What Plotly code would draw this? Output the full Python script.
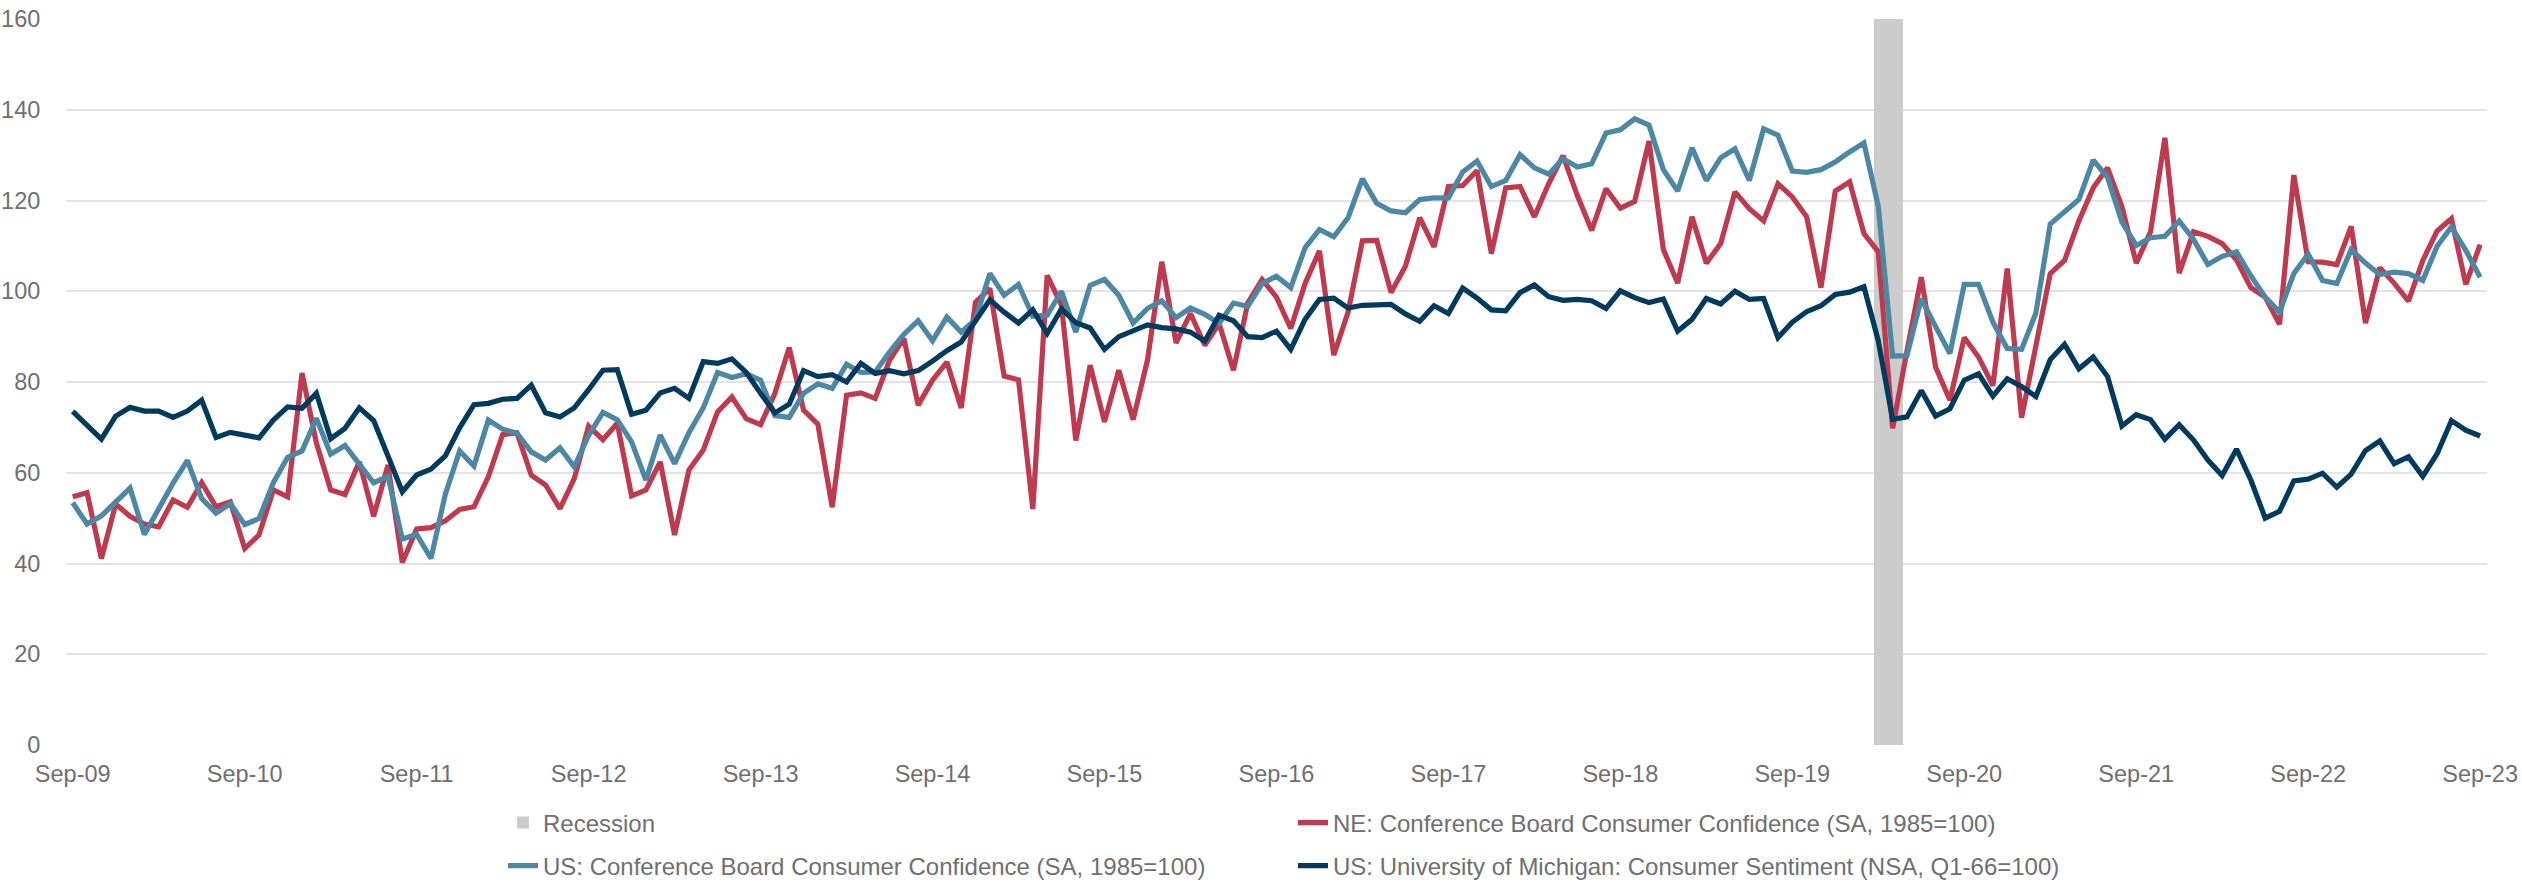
import plotly.graph_objects as go
import pandas as pd

# ---------------- data ----------------
months = list(pd.date_range("2009-09-01", "2023-09-01", freq="MS").strftime("%b-%y"))
tick_labels = ["Sep-09", "Sep-10", "Sep-11", "Sep-12", "Sep-13", "Sep-14", "Sep-15",
               "Sep-16", "Sep-17", "Sep-18", "Sep-19", "Sep-20", "Sep-21", "Sep-22", "Sep-23"]
y_ticks = [0, 20, 40, 60, 80, 100, 120, 140, 160]

recession_months = ["Mar-20", "Apr-20"]
recession_values = [160, 160]

ne_cb = [
    54.7, 55.6, 41.1, 53.1, 50.4, 48.7, 48.1, 54.0, 52.4, 57.8, 52.5, 53.6,
    43.3, 46.3, 56.2, 54.7, 82.0, 66.6, 56.2, 55.2, 62.4, 50.4, 61.7, 40.2,
    47.6, 47.9, 49.4, 51.9, 52.5, 59.1, 68.4, 68.8, 59.5, 57.3, 52.1, 58.7,
    70.3, 67.3, 70.9, 54.9, 56.2, 62.4, 46.3, 60.6, 65.0, 73.4, 76.7, 71.9,
    70.6, 77.5, 87.6, 73.8, 70.7, 52.4, 77.1, 77.6, 76.4, 84.8, 89.6, 74.9,
    80.4, 84.4, 74.3, 97.6, 100.6, 81.3, 80.5, 52.0, 103.5, 96.9, 67.1, 83.7,
    71.2, 82.6, 71.7, 84.8, 106.5, 88.6, 95.1, 88.1, 92.9, 82.6, 97.4, 102.6,
    98.7, 91.8, 101.7, 108.9, 85.9, 95.4, 111.1, 111.2, 99.7, 105.5, 116.2, 109.8,
    123.1, 123.3, 126.6, 108.3, 122.8, 123.1, 116.4, 123.7, 129.9, 121.1, 113.4, 122.6,
    118.3, 119.8, 133.1, 109.2, 101.8, 116.4, 106.2, 110.5, 121.9, 118.2, 115.5, 123.7,
    120.8, 116.4, 100.8, 122.1, 124.1, 112.7, 108.7, 69.8, 86.8, 103.1, 83.3, 76.0,
    89.8, 85.5, 79.2, 105.0, 72.1, 88.1, 103.9, 106.8, 115.5, 122.8, 127.2, 118.7,
    106.2, 113.1, 133.8, 104.0, 113.1, 112.1, 110.5, 106.9, 100.8, 98.7, 92.7, 125.6,
    106.5, 106.4, 105.9, 114.3, 93.0, 105.2, 101.8, 97.8, 106.8, 113.3, 116.0, 101.5,
    110.3,
]

us_cb = [
    53.4, 48.7, 50.5, 53.6, 56.6, 46.4, 52.3, 57.7, 62.7, 54.3, 51.1, 53.2,
    48.6, 49.9, 57.8, 63.4, 64.8, 72.0, 64.1, 66.0, 61.9, 57.8, 59.2, 45.4,
    46.4, 41.1, 55.3, 64.8, 61.5, 71.6, 69.6, 68.7, 64.6, 62.8, 65.5, 61.3,
    68.2, 73.3, 71.7, 66.8, 58.4, 68.3, 62.0, 68.8, 74.3, 82.1, 81.0, 81.8,
    80.4, 72.6, 72.2, 77.5, 79.6, 78.6, 83.9, 82.1, 82.2, 86.6, 90.5, 93.5,
    89.1, 94.3, 91.0, 93.8, 103.9, 99.1, 101.5, 94.5, 94.7, 100.0, 91.0, 101.3,
    102.6, 99.1, 93.0, 96.2, 97.9, 94.2, 96.3, 94.9, 92.9, 97.4, 96.7, 101.7,
    103.3, 100.8, 109.6, 113.6, 112.0, 116.2, 124.8, 119.4, 117.7, 117.3, 120.2, 120.6,
    120.6, 126.3, 128.7, 123.1, 124.4, 130.1, 127.2, 125.8, 129.2, 127.4, 128.1, 134.9,
    135.6, 138.0, 136.6, 126.8, 122.1, 131.6, 124.4, 129.4, 131.4, 124.4, 135.8, 134.4,
    126.5, 126.2, 126.8, 128.5, 130.7, 132.7, 118.7, 85.7, 85.8, 98.4, 92.2, 86.3,
    101.5, 101.5, 93.2, 87.4, 87.2, 95.2, 114.8, 117.4, 120.2, 128.9, 125.1, 115.3,
    110.1, 111.8, 112.1, 115.5, 111.4, 105.9, 107.7, 108.7, 103.4, 98.7, 95.4, 103.9,
    108.2, 102.4, 101.7, 109.2, 106.2, 103.7, 104.2, 103.9, 102.4, 109.9, 114.2, 109.0,
    103.1,
]

us_umich = [
    73.5, 70.6, 67.4, 72.5,
    74.4, 73.6, 73.6, 72.2, 73.6, 76.0, 67.8, 68.9, 68.2, 67.7, 71.6, 74.5,
    74.2, 77.5, 67.5, 69.8, 74.3, 71.5, 63.7, 55.8, 59.5, 60.8, 63.7, 69.9,
    75.0, 75.3, 76.2, 76.4, 79.3, 73.2, 72.3, 74.3, 78.3, 82.6, 82.7, 72.9,
    73.8, 77.6, 78.6, 76.4, 84.5, 84.1, 85.1, 82.1, 77.5, 73.2, 75.1, 82.5,
    81.2, 81.6, 80.0, 84.1, 81.9, 82.5, 81.8, 82.5, 84.6, 86.9, 88.8, 93.6,
    98.1, 95.4, 93.0, 95.9, 90.7, 96.1, 93.1, 91.9, 87.2, 90.0, 91.3, 92.6,
    92.0, 91.7, 91.0, 89.0, 94.7, 93.5, 90.0, 89.8, 91.2, 87.2, 93.8, 98.2,
    98.5, 96.3, 96.9, 97.0, 97.1, 95.0, 93.4, 96.8, 95.1, 100.7, 98.5, 95.9,
    95.7, 99.7, 101.4, 98.8, 98.0, 98.2, 97.9, 96.2, 100.1, 98.6, 97.5, 98.3,
    91.2, 93.8, 98.4, 97.2, 100.0, 98.2, 98.4, 89.8, 93.2, 95.5, 96.8, 99.3,
    99.8, 101.0, 89.1, 71.8, 72.3, 78.1, 72.5, 74.1, 80.4, 81.8, 76.9, 80.7,
    79.0, 76.8, 84.9, 88.3, 82.9, 85.5, 81.2, 70.3, 72.8, 71.7, 67.4, 70.6,
    67.2, 62.8, 59.4, 65.2, 58.4, 50.0, 51.5, 58.2, 58.6, 59.9, 56.8, 59.7,
    64.9, 67.0, 62.0, 63.5, 59.2, 64.2, 71.5, 69.4, 68.1,
]

# ---------------- styling ----------------
FONT = "Liberation Sans, Arial, sans-serif"
TEXT_GRAY = "#6f6f6f"
GRID = "#e3e3e3"
C_REC = "#cccccc"
C_NE = "#be3a4f"
C_US = "#4c87a3"
C_UM = "#003a5c"
LW = 5.2

fig = go.Figure()

fig.add_trace(go.Bar(
    x=recession_months, y=recession_values, name="Recession",
    marker=dict(color=C_REC, line=dict(width=0)), width=1.0, offset=-0.3,
    legend="legend",
))
fig.add_trace(go.Scatter(
    x=months, y=ne_cb, mode="lines",
    name="NE: Conference Board Consumer Confidence (SA, 1985=100)",
    line=dict(color=C_NE, width=LW), legend="legend",
))
fig.add_trace(go.Scatter(
    x=months, y=us_cb, mode="lines",
    name="US: Conference Board Consumer Confidence (SA, 1985=100)",
    line=dict(color=C_US, width=LW), legend="legend2",
))
fig.add_trace(go.Scatter(
    x=months, y=us_umich, mode="lines",
    name="US: University of Michigan: Consumer Sentiment (NSA, Q1-66=100)",
    line=dict(color=C_UM, width=LW), legend="legend2",
))

W, H = 2522, 887
legend_common = dict(
    orientation="h", xref="container", yref="container",
    xanchor="left", yanchor="middle", entrywidth=745, entrywidthmode="pixels",
    font=dict(family=FONT, size=24, color=TEXT_GRAY),
    bgcolor="rgba(0,0,0,0)", traceorder="normal",
)

fig.update_layout(
    width=W, height=H,
    margin=dict(l=66, r=35, t=19, b=142, autoexpand=False),
    paper_bgcolor="white", plot_bgcolor="white",
    bargap=0,
    showlegend=True,
    legend=dict(x=503 / W, y=1 - 823 / H, **legend_common),
    legend2=dict(x=503 / W, y=1 - 866 / H, **legend_common),
    xaxis=dict(
        type="category", categoryorder="array", categoryarray=months,
        range=[-0.47, 168.48], automargin=False,
        tickmode="array", tickvals=tick_labels, ticktext=tick_labels,
        showgrid=False, zeroline=False, showline=False,
        ticks="outside", ticklen=8, tickcolor="rgba(0,0,0,0)",
        tickfont=dict(family=FONT, size=23.5, color=TEXT_GRAY),
    ),
    yaxis=dict(
        range=[0, 160], tickmode="array", tickvals=y_ticks, automargin=False,
        showgrid=True, gridcolor=GRID, gridwidth=1.5,
        zeroline=False, showline=False,
        ticks="outside", ticklen=20, tickcolor="rgba(0,0,0,0)",
        tickfont=dict(family=FONT, size=23.5, color=TEXT_GRAY),
    ),
)

fig.write_html(
    "out.html",
    config={"displayModeBar": False},
    post_script="document.body.style.margin='0';document.body.style.overflow='hidden';",
)
